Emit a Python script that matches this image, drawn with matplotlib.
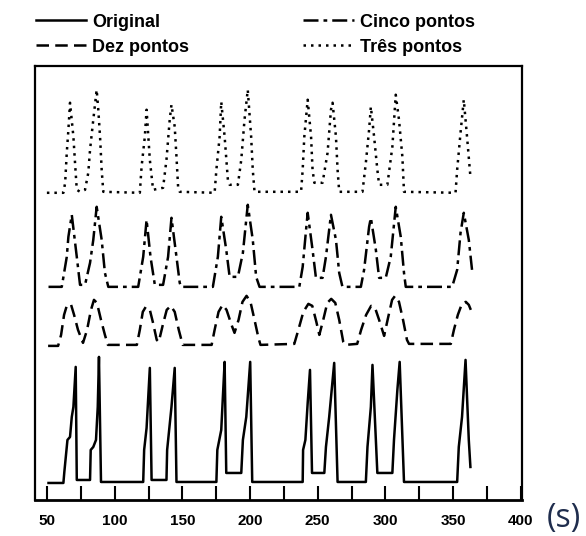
import matplotlib.pyplot as plt
from matplotlib.ticker import MultipleLocator

# Signal heights above each trace's own baseline.
orig_x = [51, 62, 62.7, 65, 66.9, 68.2, 69.4, 71.1, 71.9, 81.7, 82.2, 84.1, 86.1, 87.4, 88.3, 89.8,
          121, 121.7, 123.5, 125.9, 127.2, 138.2, 138.7, 141.9, 144.3, 145.6,
          175.1, 175.8, 178.7, 179.9, 181.2, 182.4, 193.5, 194.7, 197.2, 200.1, 201.6,
          238.9, 239.2, 240.9, 242.6, 244.3, 245.8, 254.9, 256.1, 258.5, 262.2, 264.7,
          285.6, 286.8, 289.3, 290.5, 294.1, 305.2, 306.4, 308.9, 310.6, 313.8,
          353.1, 354.3, 356.7, 359.3, 360.4, 361.7, 362.9]
orig_y = [-1, -1, 10, 42, 45, 65, 75, 115, 2, 2, 32, 35, 42, 75, 125, 0,
          0, 32, 54, 114, 2, 2, 32, 75, 114, 0,
          0, 32, 52, 85, 120, 9, 9, 42, 65, 120, 0,
          0, 32, 42, 79, 112, 9, 9, 35, 65, 119, 0,
          0, 35, 75, 117, 9, 9, 42, 92, 120, 0,
          0, 35, 65, 122, 85, 42, 15]

dez_x = [50.7, 58.1, 60.3, 62.5, 64.7, 67.7, 69.9, 72.8, 76.5, 79.5, 82.4, 84.6, 86.8, 89.8, 92.7, 94.9,
         116.3, 118.5, 120.7, 122.9, 125.9, 128.1, 131.0, 132.5, 135.5, 138.4, 141.4, 144.3, 147.3, 150.2,
         171.6, 173.8, 176.7, 179.7, 182.6, 186.3, 188.5, 191.5, 194.4, 197.4, 200.3, 203.3, 206.2, 207.7,
         232.7, 235.7, 239.4, 243.1, 246.0, 249.0, 251.2, 254.1, 257.1, 260.0, 263.0, 265.9, 268.9, 270.3,
         279.2, 282.1, 285.8, 289.5, 292.4, 295.4, 299.1, 302.0, 305.0, 307.2, 310.1, 313.1, 316.0, 317.5,
         348.4, 350.7, 353.6, 356.6, 359.5, 361.7, 363.2]
dez_y = [-1, -1, 10, 30, 40, 40, 30, 15, 2, 15, 35, 45, 42, 25, 10, 0,
         0, 15, 33, 38, 35, 23, 5, 3, 20, 35, 39, 33, 15, 0,
         0, 15, 33, 40, 35, 20, 12, 25, 43, 49, 43, 25, 7, 0,
         1, 15, 33, 41, 39, 23, 10, 25, 42, 46, 42, 25, 3, 0,
         1, 15, 30, 39, 37, 25, 9, 27, 45, 49, 43, 25, 5, 1,
         1, 15, 30, 41, 43, 40, 35]

cinco_x = [51, 60.8, 64.5, 65.7, 68.2, 71.9, 74.3, 78, 81.7, 84.1, 86.6, 90.3, 92.7, 95.2,
           117.3, 121, 123.5, 126.4, 129.6, 135.7, 139.4, 141.9, 145.6, 148, 149,
           172.5, 176.2, 178.7, 182.4, 184.9, 191, 194.7, 198.3, 202, 204.5, 207,
           236.4, 238.9, 241.4, 242.6, 246.2, 248.7, 253.6, 256.1, 259.8, 263.5, 265.9, 268.3,
           281.9, 284.3, 288, 289.3, 293, 295.4, 300.3, 304, 307.7, 311.4, 313.8, 315.1,
           349.4, 353.1, 355.6, 358, 361.7, 364.1]
cinco_y = [0, 0, 30, 50, 72, 30, 2, 2, 24, 47, 80, 47, 14, 0,
           0, 30, 67, 30, 2, 2, 30, 69, 30, 4, 0,
           0, 30, 70, 37, 10, 10, 34, 82, 47, 10, 0,
           0, 20, 57, 74, 37, 9, 9, 30, 72, 47, 14, 0,
           0, 17, 60, 69, 37, 9, 9, 30, 80, 50, 14, 0,
           0, 17, 54, 74, 47, 17]

tres_x = [49.8, 62, 63.3, 64.5, 65.7, 66.9, 69.4, 70.6, 71.9, 74.3, 78, 80.4, 81.7, 84.1, 86.6, 87.8,
          89.1, 90.3, 91.5, 118.5, 119.8, 122.2, 123.5, 125.9, 128.3, 135.7, 138.2, 140.6, 141.9,
          144.3, 145.6, 146.8, 148, 173.8, 175.1, 177.5, 178.7, 181.2, 183.6, 184.9, 191, 193.5,
          195.9, 198.3, 200.8, 202, 203.3, 237.7, 238.9, 240.1, 242.6, 245.1, 246.2, 247.5, 253.6,
          257.3, 259.8, 261, 263.5, 264.7, 265.9, 283.1, 285.6, 288, 289.3, 291.7, 294.1, 295.4,
          301.5, 305.2, 307.7, 310.1, 312.6, 313.8, 351.9, 353.1, 355.6, 358, 360.4, 362.9]
tres_y = [0, 0, 10, 40, 63, 90, 56, 30, 3, 1, 3, 20, 43, 73, 103, 83,
          56, 23, 1, 0, 26, 56, 83, 33, 3, 5, 33, 73, 88,
          66, 36, 6, 1, 0, 23, 56, 91, 56, 13, 8, 8, 33,
          73, 103, 56, 23, 1, 1, 23, 56, 93, 56, 23, 10, 10,
          40, 83, 90, 56, 23, 1, 1, 30, 63, 86, 56, 23, 8,
          8, 46, 98, 73, 36, 1, 0, 23, 60, 93, 56, 16]

labels = ['Original', 'Dez pontos', 'Cinco pontos', 'Três pontos']
x_ticks = [50, 100, 150, 200, 250, 300, 350, 400]

bold_font = ['Liberation Sans', 'DejaVu Sans']

fig = plt.figure(figsize=(5.86, 5.36), dpi=100)
ax = fig.add_axes([0.0597, 0.0672, 0.831, 0.8102])

traces = [
    (orig_x, orig_y, 18, '-'),
    (dez_x, dez_y, 155, (0, (5, 2.5))),
    (cinco_x, cinco_y, 213, (0, (6, 2, 1.5, 2))),
    (tres_x, tres_y, 307, (0, (1, 2))),
]
handles = []
for (xs, ys, base, ls), lab in zip(traces, labels):
    line, = ax.plot(xs, [base + v for v in ys], color='black', lw=1.8,
                    linestyle=ls, label=lab)
    handles.append(line)

ax.set_xlim(41, 401)
ax.set_ylim(0, 434)
ax.set_yticks([])
ax.xaxis.set_major_locator(MultipleLocator(50))
ax.xaxis.set_minor_locator(MultipleLocator(25))
ax.set_xticks(x_ticks)
ax.tick_params(axis='x', which='both', direction='in', length=10, width=1.5,
               pad=10, labelsize=11)
for lab in ax.get_xticklabels():
    lab.set_family(bold_font)
    lab.set_fontweight('bold')
for side in ['left', 'right', 'top', 'bottom']:
    ax.spines[side].set_linewidth(1.6)
ax.spines['bottom'].set_linewidth(2)

fig.legend(handles=handles, labels=labels, ncol=2, loc='upper left',
           bbox_to_anchor=(0.033, 1.005), frameon=False, handlelength=2.8,
           handletextpad=0.35, columnspacing=6.3, labelspacing=0.45,
           prop={'family': bold_font, 'weight': 'bold', 'size': 13})

fig.text(0.963, 0.016, '(s)', fontsize=23, color='#1f2d4d', family='Open Sans',
         ha='center', va='baseline')

fig.savefig('out.png', dpi=100)
